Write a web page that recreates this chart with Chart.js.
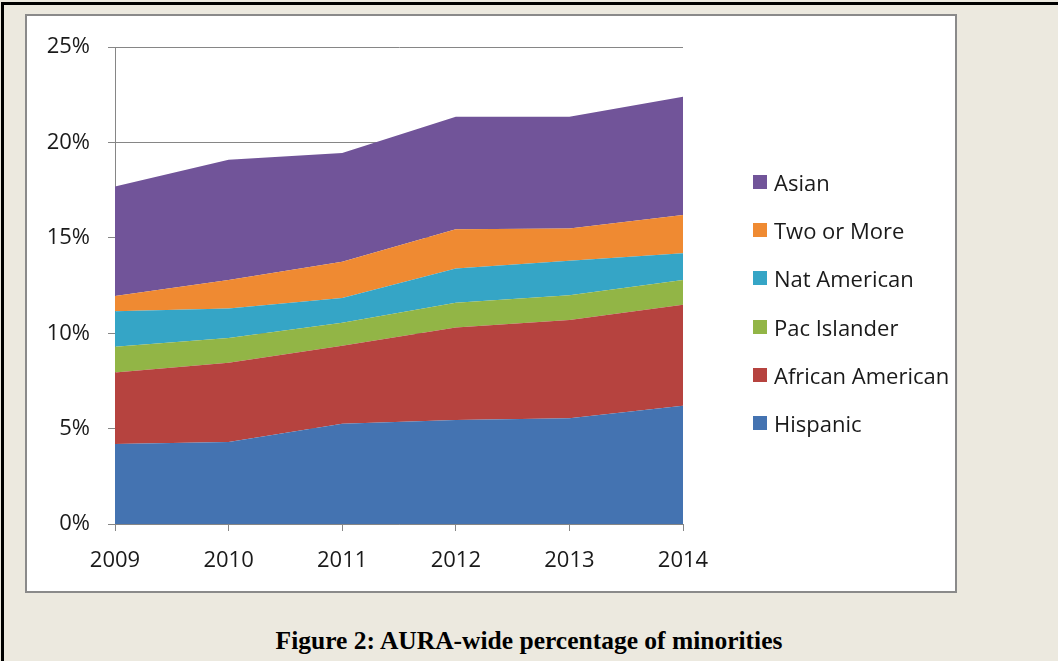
<!DOCTYPE html>
<html>
<head>
<meta charset="utf-8">
<script src="https://cdn.jsdelivr.net/npm/chart.js@4/dist/chart.umd.min.js"></script>
<style>
  body { margin: 0; background: #ECE9DF; width: 1058px; height: 661px; overflow: hidden; position: relative; }
  #frame { position: absolute; left: 1px; top: 2px; width: 1100px; height: 700px; border-left: 3px solid #000; border-top: 3px solid #000; }
  #box { position: absolute; left: 25px; top: 14px; width: 932px; height: 579px; box-sizing: border-box; border: 2px solid #8a8a8a; background: #fff; }
  #chart { position: absolute; left: 0; top: 0; }
  #legend { position: absolute; left: 726px; top: 142px; font-family: "Open Sans", sans-serif; font-size: 22px; color: #1a1a1a; }
  .row { height: 48.2px; display: flex; align-items: center; }
  .sw { width: 14px; height: 14px; margin-right: 7px; }
  #caption { position: absolute; left: 0; width: 1058px; top: 626px; text-align: center; font-family: "Liberation Serif", "Times New Roman", serif; font-weight: bold; font-size: 25.5px; color: #000; }
</style>
</head>
<body>
<div id="frame"></div>
<div id="box">
  <canvas id="chart" width="928" height="575"></canvas>
  <div id="legend"></div>
</div>
<div id="caption">Figure 2: AURA-wide percentage of minorities</div>
<script>
"use strict";

// data (percent)
const years = ["2009", "2010", "2011", "2012", "2013", "2014"];
const hispanic = [4.2, 4.3, 5.25, 5.45, 5.55, 6.2];
const africanAmerican = [3.75, 4.15, 4.1, 4.85, 5.15, 5.3];
const pacIslander = [1.35, 1.3, 1.2, 1.3, 1.3, 1.3];
const natAmerican = [1.85, 1.55, 1.3, 1.8, 1.8, 1.4];
const twoOrMore = [0.8, 1.5, 1.9, 2.05, 1.7, 2.0];
const asian = [5.75, 6.3, 5.7, 5.9, 5.85, 6.2];
const yTicks = [0, 5, 10, 15, 20, 25];

const seriesNames = ["Hispanic", "African American", "Pac Islander", "Nat American", "Two or More", "Asian"];
const seriesValues = [hispanic, africanAmerican, pacIslander, natAmerican, twoOrMore, asian];
const seriesColors = ["#4473B1", "#B6433F", "#92B546", "#35A5C6", "#EF8A32", "#715499"];

const datasets = seriesNames.map((name, i) => ({
  label: name,
  data: seriesValues[i],
  backgroundColor: seriesColors[i],
  borderWidth: 0,
  pointRadius: 0,
  tension: 0,
  fill: i === 0 ? "origin" : "-1"
}));

const tickFont = { family: "'Open Sans', sans-serif", size: 22 };

new Chart(document.getElementById("chart"), {
  type: "line",
  data: { labels: years, datasets: datasets },
  options: {
    responsive: false,
    animation: false,
    devicePixelRatio: 1,
    layout: { padding: { top: 29, right: 272, left: 0, bottom: 0 } },
    plugins: { legend: { display: false }, tooltip: { enabled: false } },
    scales: {
      x: {
        offset: false,
        grid: { drawOnChartArea: false, drawTicks: true, tickLength: 7, color: "#868686" },
        border: { color: "#868686" },
        ticks: { font: tickFont, color: "#1a1a1a", padding: 17, maxRotation: 0 },
        afterFit: s => { s.height = 67; }
      },
      y: {
        stacked: true,
        min: 0,
        max: 25,
        afterBuildTicks: s => { s.ticks = yTicks.map(v => ({ value: v })); },
        grid: { color: "#868686", tickLength: 7 },
        border: { color: "#868686" },
        ticks: { font: tickFont, color: "#1a1a1a", padding: 18, callback: v => v + "%" },
        afterFit: s => { s.width = 88; }
      }
    }
  }
});

// legend, top to bottom in reverse stacking order
const legend = document.getElementById("legend");
for (let i = seriesNames.length - 1; i >= 0; i--) {
  const row = document.createElement("div");
  row.className = "row";
  const sw = document.createElement("span");
  sw.className = "sw";
  sw.style.background = seriesColors[i];
  const txt = document.createElement("span");
  txt.textContent = seriesNames[i];
  row.appendChild(sw);
  row.appendChild(txt);
  legend.appendChild(row);
}
</script>
</body>
</html>
